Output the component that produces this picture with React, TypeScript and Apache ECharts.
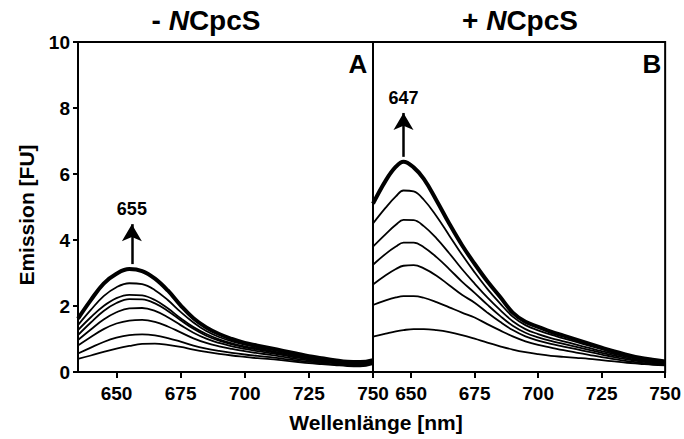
import React, { useEffect, useRef } from "react";
import * as echarts from "echarts";

const wavelengthsA = [635, 640, 645, 650, 655, 660, 665, 670, 675, 680, 685, 690, 695, 700, 705, 710, 715, 720, 725, 730, 735, 740, 745, 750];
const wavelengthsB = [635, 640, 644, 647, 651, 655, 660, 665, 670, 675, 680, 685, 690, 695, 700, 705, 710, 715, 720, 725, 730, 735, 740, 745, 750];
const xTicks = [650, 675, 700, 725, 750];

// Panel A: - NCpcS (lowest to highest, last is bold)
const a1 = [0.40, 0.50, 0.61, 0.71, 0.79, 0.85, 0.86, 0.82, 0.76, 0.68, 0.61, 0.55, 0.50, 0.46, 0.42, 0.39, 0.35, 0.31, 0.27, 0.24, 0.21, 0.18, 0.17, 0.24];
const a2 = [0.56, 0.74, 0.91, 1.04, 1.12, 1.14, 1.11, 1.03, 0.92, 0.80, 0.71, 0.64, 0.58, 0.53, 0.49, 0.45, 0.40, 0.35, 0.31, 0.27, 0.23, 0.20, 0.19, 0.26];
const a3 = [0.80, 1.06, 1.30, 1.47, 1.56, 1.58, 1.52, 1.38, 1.20, 1.02, 0.88, 0.78, 0.70, 0.63, 0.57, 0.52, 0.46, 0.40, 0.35, 0.30, 0.26, 0.22, 0.21, 0.28];
const a4 = [0.97, 1.29, 1.59, 1.81, 1.93, 1.94, 1.85, 1.66, 1.42, 1.19, 1.01, 0.88, 0.78, 0.70, 0.63, 0.57, 0.51, 0.44, 0.38, 0.33, 0.28, 0.24, 0.23, 0.30];
const a5 = [1.12, 1.50, 1.85, 2.09, 2.21, 2.20, 2.08, 1.85, 1.57, 1.31, 1.10, 0.95, 0.84, 0.75, 0.68, 0.61, 0.54, 0.47, 0.41, 0.35, 0.30, 0.26, 0.25, 0.31];
const a6 = [1.27, 1.66, 2.00, 2.24, 2.34, 2.32, 2.18, 1.93, 1.63, 1.36, 1.15, 0.99, 0.87, 0.78, 0.71, 0.64, 0.57, 0.50, 0.43, 0.37, 0.32, 0.27, 0.26, 0.32];
const a7 = [1.42, 1.88, 2.30, 2.57, 2.69, 2.66, 2.48, 2.18, 1.82, 1.50, 1.24, 1.06, 0.93, 0.83, 0.75, 0.68, 0.61, 0.53, 0.46, 0.40, 0.34, 0.29, 0.28, 0.34];
const a8 = [1.62, 2.18, 2.68, 2.98, 3.12, 3.06, 2.83, 2.47, 2.02, 1.63, 1.35, 1.15, 1.00, 0.88, 0.80, 0.72, 0.64, 0.56, 0.48, 0.42, 0.36, 0.31, 0.30, 0.36];

// Panel B: + NCpcS (lowest to highest, last is bold)
const b1 = [1.07, 1.16, 1.23, 1.27, 1.30, 1.30, 1.27, 1.21, 1.12, 1.01, 0.89, 0.78, 0.68, 0.60, 0.54, 0.49, 0.46, 0.43, 0.40, 0.36, 0.32, 0.28, 0.25, 0.22, 0.20];
const b2 = [2.03, 2.17, 2.26, 2.30, 2.30, 2.25, 2.12, 1.96, 1.80, 1.65, 1.45, 1.26, 1.08, 0.93, 0.82, 0.74, 0.66, 0.59, 0.52, 0.45, 0.39, 0.33, 0.28, 0.24, 0.21];
const b3 = [2.65, 2.93, 3.12, 3.22, 3.24, 3.14, 2.92, 2.63, 2.34, 2.10, 1.80, 1.52, 1.27, 1.08, 0.95, 0.85, 0.77, 0.69, 0.61, 0.53, 0.45, 0.38, 0.32, 0.27, 0.24];
const b4 = [3.25, 3.58, 3.80, 3.92, 3.92, 3.78, 3.48, 3.12, 2.74, 2.40, 2.04, 1.70, 1.40, 1.19, 1.05, 0.94, 0.85, 0.76, 0.67, 0.58, 0.50, 0.42, 0.35, 0.30, 0.27];
const b5 = [3.80, 4.18, 4.46, 4.61, 4.60, 4.42, 4.05, 3.60, 3.12, 2.68, 2.26, 1.88, 1.54, 1.30, 1.15, 1.03, 0.93, 0.83, 0.73, 0.63, 0.54, 0.46, 0.38, 0.33, 0.29];
const b6 = [4.50, 4.98, 5.32, 5.50, 5.47, 5.22, 4.72, 4.14, 3.56, 3.02, 2.52, 2.08, 1.68, 1.42, 1.26, 1.13, 1.02, 0.91, 0.80, 0.69, 0.58, 0.49, 0.41, 0.35, 0.31];
const b7 = [5.10, 5.80, 6.22, 6.37, 6.20, 5.85, 5.20, 4.50, 3.85, 3.28, 2.75, 2.28, 1.80, 1.52, 1.37, 1.22, 1.10, 0.98, 0.86, 0.74, 0.62, 0.52, 0.43, 0.37, 0.32];

const panelA = [a1, a2, a3, a4, a5, a6, a7, a8];
const panelB = [b1, b2, b3, b4, b5, b6, b7];

const peakA = { label: "655", x: 656, from: 3.27, to: 4.48 };
const peakB = { label: "647", x: 647, from: 6.52, to: 7.85 };

const FONT = "Arial, 'Liberation Sans', sans-serif";

export default function App() {
  const ref = useRef<HTMLDivElement>(null);
  useEffect(() => {
    if (!ref.current) return;
    const chart = echarts.init(ref.current, null, { renderer: "svg" });

    const mkX = (gridIndex: number) => ({
      type: "value",
      gridIndex,
      min: 635,
      max: 750,
      axisLine: { show: true, lineStyle: { color: "#000", width: 2 } },
      axisTick: { show: true, inside: false, length: 6, customValues: xTicks, lineStyle: { color: "#000", width: 2 } },
      axisLabel: { show: true, customValues: xTicks, margin: 12, color: "#000", fontSize: 19, fontWeight: "bold", fontFamily: FONT },
      splitLine: { show: false },
    });
    const mkY = (gridIndex: number, labels: boolean) => ({
      type: "value",
      gridIndex,
      min: 0,
      max: 10,
      interval: 2,
      axisLine: { show: true, lineStyle: { color: "#000", width: 2 } },
      axisTick: { show: labels, inside: false, length: 5, lineStyle: { color: "#000", width: 2 } },
      axisLabel: { show: labels, margin: 8, color: "#000", fontSize: 19, fontWeight: "bold", fontFamily: FONT },
      splitLine: { show: false },
    });

    const arrowLine = (p: { label: string; x: number; from: number; to: number }) => ({
      silent: true,
      symbol: ["none", "arrow"],
      symbolSize: [15, 17],
      lineStyle: { color: "#000", width: 2.5, type: "solid" },
      label: { show: true, position: "end", formatter: p.label, color: "#000", fontSize: 18, fontWeight: "bold", fontFamily: FONT, distance: 6 },
      data: [[{ coord: [p.x, p.from] }, { coord: [p.x, p.to] }]],
    });

    const series: any[] = [];
    panelA.forEach((arr, i) => {
      const bold = i === panelA.length - 1;
      series.push({
        type: "line",
        xAxisIndex: 0,
        yAxisIndex: 0,
        smooth: 0.4,
        showSymbol: false,
        data: wavelengthsA.map((w, k) => [w, arr[k]]),
        lineStyle: { color: "#000", width: bold ? 4 : 1.8 },
        z: bold ? 5 : 3,
        markLine: bold ? arrowLine(peakA) : undefined,
      });
    });
    panelB.forEach((arr, i) => {
      const bold = i === panelB.length - 1;
      series.push({
        type: "line",
        xAxisIndex: 1,
        yAxisIndex: 1,
        smooth: 0.4,
        showSymbol: false,
        data: wavelengthsB.map((w, k) => [w, arr[k]]),
        lineStyle: { color: "#000", width: bold ? 4 : 1.8 },
        z: bold ? 5 : 3,
        markLine: bold ? arrowLine(peakB) : undefined,
      });
    });

    const titleRich = {
      a: { fontSize: 28, fontWeight: "bold", fontFamily: FONT, fill: "#000" },
      n: { fontSize: 28, fontWeight: "bold", fontStyle: "italic", fontFamily: FONT, fill: "#000" },
    };

    chart.setOption({
      animation: false,
      backgroundColor: "#fff",
      grid: [
        { left: 78, top: 42, width: 295, height: 330, show: true, borderColor: "#000", borderWidth: 2, backgroundColor: "transparent" },
        { left: 373, top: 42, width: 295, height: 330, show: true, borderColor: "#000", borderWidth: 2, backgroundColor: "transparent" },
      ],
      xAxis: [mkX(0), mkX(1)],
      yAxis: [mkY(0, true), mkY(1, false)],
      series,
      graphic: [
        { type: "text", x: 206, y: 20, style: { text: "{a|- }{n|N}{a|CpcS}", rich: titleRich, align: "center", verticalAlign: "middle" } },
        { type: "text", x: 520, y: 20, style: { text: "{a|+ }{n|N}{a|CpcS}", rich: titleRich, align: "center", verticalAlign: "middle" } },
        { type: "text", x: 358, y: 64, style: { text: "A", fontSize: 26, fontWeight: "bold", fontFamily: FONT, fill: "#000", align: "center", verticalAlign: "middle" } },
        { type: "text", x: 652, y: 64, style: { text: "B", fontSize: 26, fontWeight: "bold", fontFamily: FONT, fill: "#000", align: "center", verticalAlign: "middle" } },
        { type: "text", x: 376, y: 422, style: { text: "Wellenlänge [nm]", fontSize: 21, fontWeight: "bold", fontFamily: FONT, fill: "#000", align: "center", verticalAlign: "middle" } },
        { type: "text", x: 26, y: 215, rotation: Math.PI / 2, style: { text: "Emission [FU]", fontSize: 21, fontWeight: "bold", fontFamily: FONT, fill: "#000", align: "center", verticalAlign: "middle" } },
      ],
    });
    return () => chart.dispose();
  }, []);
  return <div ref={ref} style={{ width: 684, height: 439, position: "absolute", left: 0, top: 0 }} />;
}
